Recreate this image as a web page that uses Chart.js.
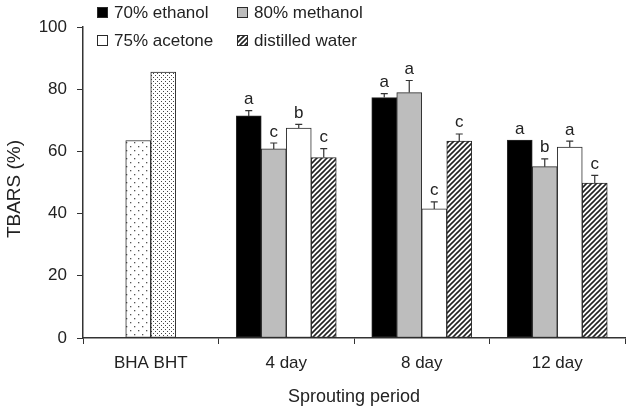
<!DOCTYPE html>
<html><head><meta charset="utf-8">
<script src="https://cdn.jsdelivr.net/npm/chart.js@4/dist/chart.umd.min.js"></script>
<style>html,body{margin:0;padding:0;background:#fff}#wrap{width:627px;height:409px;position:relative}</style>
</head><body><div id="wrap"><canvas id="c"></canvas></div>
<script>
const categories = ["BHA BHT", "4 day", "8 day", "12 day"];
const bhaValues = [63.5, null, null, null];
const bhtValues = [85.5, null, null, null];
const ethanolValues = [null, 71.4, 77.3, 63.6];
const methanolValues = [null, 60.8, 78.9, 55.1];
const acetoneValues = [null, 67.5, 41.5, 61.4];
const waterValues = [null, 58.0, 63.3, 49.8];
const ethanolErr = [null, 1.7, 1.3, 0];
const methanolErr = [null, 1.9, 3.9, 2.5];
const acetoneErr = [null, 1.2, 2.3, 1.9];
const waterErr = [null, 2.9, 2.3, 2.5];
const ethanolSig = [null, "a", "a", "a"];
const methanolSig = [null, "c", "a", "b"];
const acetoneSig = [null, "b", "c", "a"];
const waterSig = [null, "c", "c", "c"];
const seriesNames = ["70% ethanol", "80% methanol", "75% acetone", "distilled water"];
const yTicks = [0, 20, 40, 60, 80, 100];
const yTitle = "TBARS (%)";
const xTitle = "Sprouting period";

const FONT = "'Liberation Sans', Arial, sans-serif";
const TXT = "#222";

function makePattern(size, drawFn) {
  const c = document.createElement("canvas");
  c.width = size; c.height = size;
  const x = c.getContext("2d");
  x.fillStyle = "#fff"; x.fillRect(0, 0, size, size);
  drawFn(x, size);
  return document.getElementById("c").getContext("2d").createPattern(c, "repeat");
}
const sparseDots = makePattern(8, (x) => {
  x.fillStyle = "#555";
  x.fillRect(2, 2, 1.3, 1.3);
  x.fillRect(6, 6, 1.3, 1.3);
});
const denseDots = makePattern(4, (x) => {
  x.fillStyle = "#444";
  x.fillRect(1, 1, 1, 1);
  x.fillRect(3, 3, 1, 1);
});
const hatch = makePattern(5, (x, s) => {
  x.strokeStyle = "#222"; x.lineWidth = 1.6;
  x.beginPath();
  x.moveTo(-1, 1); x.lineTo(1, -1);
  x.moveTo(0, s); x.lineTo(s, 0);
  x.moveTo(s - 1, s + 1); x.lineTo(s + 1, s - 1);
  x.stroke();
});

const fills = ["#000000", "#bdbdbd", "#ffffff", hatch];
const treat = [
  { name: seriesNames[0], values: ethanolValues, err: ethanolErr, sig: ethanolSig },
  { name: seriesNames[1], values: methanolValues, err: methanolErr, sig: methanolSig },
  { name: seriesNames[2], values: acetoneValues, err: acetoneErr, sig: acetoneSig },
  { name: seriesNames[3], values: waterValues, err: waterErr, sig: waterSig }
];

const datasets = [
  { label: "BHA", data: bhaValues, backgroundColor: sparseDots },
  { label: "BHT", data: bhtValues, backgroundColor: denseDots }
].concat(treat.map((t, i) => ({ label: t.name, data: t.values, backgroundColor: fills[i] })));
datasets.forEach(d => { d.borderColor = "#2a2a2a"; d.borderWidth = 1; d.borderSkipped = false; });

const overlay = {
  id: "overlay",
  afterDatasetsDraw(chart) {
    const ctx = chart.ctx, y = chart.scales.y;
    ctx.save();
    treat.forEach((t, k) => {
      const meta = chart.getDatasetMeta(k + 2);
      t.values.forEach((v, i) => {
        if (v == null) return;
        const bar = meta.data[i];
        const top = y.getPixelForValue(v);
        const et = y.getPixelForValue(v + (t.err[i] || 0));
        if (t.err[i]) {
          ctx.strokeStyle = "#333"; ctx.lineWidth = 1.2;
          ctx.beginPath();
          ctx.moveTo(bar.x, top); ctx.lineTo(bar.x, et);
          ctx.moveTo(bar.x - 3.5, et); ctx.lineTo(bar.x + 3.5, et);
          ctx.stroke();
        }
        if (t.sig[i]) {
          ctx.fillStyle = TXT; ctx.font = "17px " + FONT;
          ctx.textAlign = "center"; ctx.textBaseline = "alphabetic";
          ctx.fillText(t.sig[i], bar.x, et - 6.5);
        }
      });
    });
    // legend
    const lx = [97, 237], ly = [7, 35];
    treat.forEach((t, k) => {
      const bx = lx[k % 2], by = ly[Math.floor(k / 2)];
      ctx.fillStyle = fills[k];
      ctx.fillRect(bx, by, 11, 11);
      ctx.strokeStyle = "#2a2a2a"; ctx.lineWidth = 1;
      ctx.strokeRect(bx + 0.5, by + 0.5, 10, 10);
      ctx.fillStyle = TXT; ctx.font = "17px " + FONT;
      ctx.textAlign = "left"; ctx.textBaseline = "middle";
      ctx.fillText(t.name, bx + 17, by + 6);
    });
    // axis titles
    ctx.fillStyle = TXT;
    ctx.textAlign = "center"; ctx.textBaseline = "middle";
    ctx.font = "18px " + FONT;
    ctx.fillText(xTitle, (chart.chartArea.left + chart.chartArea.right) / 2, 397);
    ctx.font = "19px " + FONT;
    ctx.translate(15, 189); ctx.rotate(-Math.PI / 2);
    ctx.fillText(yTitle, 0, 0);
    ctx.restore();
  }
};

new Chart(document.getElementById("c"), {
  type: "bar",
  data: { labels: categories, datasets },
  options: {
    responsive: true, maintainAspectRatio: false, animation: false,
    devicePixelRatio: 1,
    skipNull: true,
    barThickness: 25,
    layout: { padding: { top: 27, right: 2, bottom: 0, left: 0 } },
    plugins: { legend: { display: false }, tooltip: { enabled: false } },
    scales: {
      x: {
        grid: { display: true, drawOnChartArea: false, drawTicks: true, tickLength: 6, color: "#333", offset: true },
        border: { display: true, color: "#333", width: 1.5 },
        ticks: { color: TXT, font: { family: FONT, size: 17 }, padding: 9, maxRotation: 0 },
        afterFit(s) { s.height = 71; }
      },
      y: {
        min: 0, max: 100,
        afterBuildTicks(s) { s.ticks = yTicks.map(v => ({ value: v })); },
        grid: { display: true, drawOnChartArea: false, drawTicks: true, tickLength: 6, color: "#333" },
        border: { display: true, color: "#333", width: 1.5 },
        ticks: { color: TXT, font: { family: FONT, size: 17 }, padding: 10 },
        afterFit(s) { s.width = 83; }
      }
    }
  },
  plugins: [overlay]
});
</script></body></html>
